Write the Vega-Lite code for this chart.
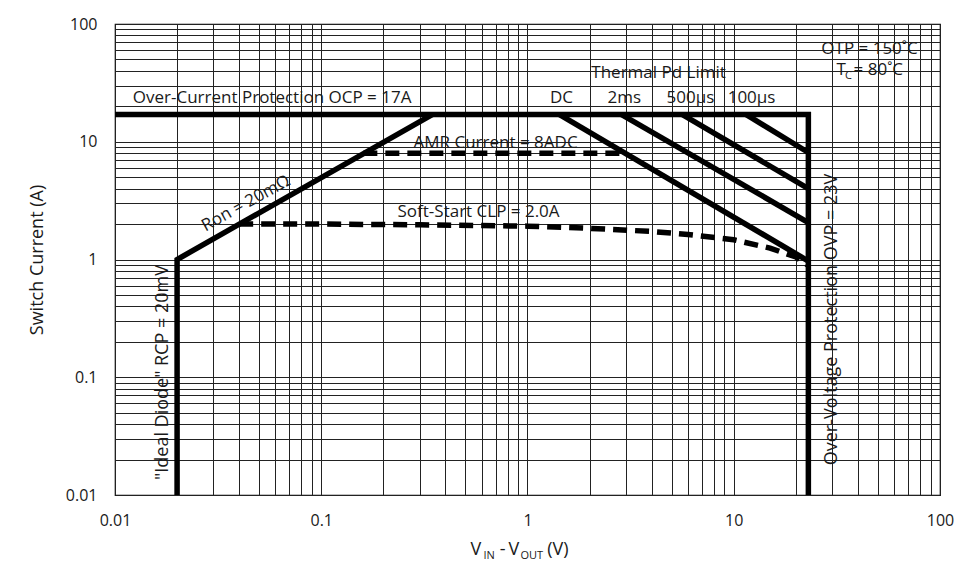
{
  "$schema": "https://vega.github.io/schema/vega-lite/v6.json",
  "width": 825,
  "height": 471,
  "autosize": {"type": "none"},
  "padding": {"left": 115, "top": 24, "right": 18, "bottom": 78},
  "background": "white",
  "config": {
    "view": {"stroke": "#000", "strokeWidth": 1.2},
    "font": "Open Sans",
    "text": {"font": "Open Sans", "color": "#1a1a1a"}
  },
  "encoding": {
    "x": {
      "field": "v", "type": "quantitative",
      "scale": {"type": "log", "domain": [0.01, 100], "nice": false},
      "axis": {
        "values": [0.01,0.02,0.03,0.04,0.05,0.06,0.07,0.08,0.09,0.1,0.2,0.3,0.4,0.5,0.6,0.7,0.8,0.9,1,2,3,4,5,6,7,8,9,10,20,30,40,50,60,70,80,90,100],
        "format": "~g",
        "labelExpr": "abs(log(datum.value)/LN10 - round(log(datum.value)/LN10)) < 0.001 ? datum.label : ''",
        "ticks": false, "domain": false, "grid": true,
        "gridColor": "#222", "gridWidth": 1, "gridOpacity": 1,
        "labelFont": "Open Sans", "labelFontSize": 16, "labelColor": "#1a1a1a",
        "labelPadding": 17, "labelFlush": false, "labelOverlap": false,
        "title": null
      }
    },
    "y": {
      "field": "i", "type": "quantitative",
      "scale": {"type": "log", "domain": [0.01, 100], "nice": false},
      "axis": {
        "values": [0.01,0.02,0.03,0.04,0.05,0.06,0.07,0.08,0.09,0.1,0.2,0.3,0.4,0.5,0.6,0.7,0.8,0.9,1,2,3,4,5,6,7,8,9,10,20,30,40,50,60,70,80,90,100],
        "format": "~g",
        "labelExpr": "abs(log(datum.value)/LN10 - round(log(datum.value)/LN10)) < 0.001 ? datum.label : ''",
        "ticks": false, "domain": false, "grid": true,
        "gridColor": "#222", "gridWidth": 1, "gridOpacity": 1,
        "labelFont": "Open Sans", "labelFontSize": 16, "labelColor": "#1a1a1a",
        "labelPadding": 18, "labelFlush": false, "labelOverlap": false,
        "title": "Switch Current (A)", "titleFont": "Open Sans", "titleFontSize": 18,
        "titleFontWeight": "normal", "titleColor": "#1a1a1a", "titlePadding": 19
      }
    }
  },
  "layer": [
    {
      "data": {"values": [
        {"s": "RON", "k": 0, "v": 0.02, "i": 0.01},
        {"s": "RON", "k": 1, "v": 0.02, "i": 1},
        {"s": "RON", "k": 2, "v": 0.345, "i": 17},
        {"s": "OCP", "k": 0, "v": 0.01, "i": 17},
        {"s": "OCP", "k": 1, "v": 23, "i": 17},
        {"s": "OCP", "k": 2, "v": 23, "i": 0.01},
        {"s": "DC", "k": 0, "v": 1.43, "i": 17},
        {"s": "DC", "k": 1, "v": 23, "i": 0.97},
        {"s": "2ms", "k": 0, "v": 2.86, "i": 17},
        {"s": "2ms", "k": 1, "v": 23, "i": 2.06},
        {"s": "500us", "k": 0, "v": 5.64, "i": 17},
        {"s": "500us", "k": 1, "v": 23, "i": 4.0},
        {"s": "100us", "k": 0, "v": 11.5, "i": 17},
        {"s": "100us", "k": 1, "v": 23, "i": 8.1}
      ]},
      "mark": {"type": "line", "color": "#000", "strokeWidth": 5.5, "strokeCap": "butt", "strokeJoin": "miter", "clip": true},
      "encoding": {"detail": {"field": "s"}, "order": {"field": "k"}}
    },
    {
      "data": {"values": [
        {"s": "AMR", "k": 0, "v": 0.16, "i": 8},
        {"s": "AMR", "k": 1, "v": 2.8, "i": 8},
        {"s": "SS", "k": 0, "v": 0.04, "i": 2.0},
        {"s": "SS", "k": 1, "v": 0.1, "i": 2.0},
        {"s": "SS", "k": 2, "v": 0.3, "i": 1.97},
        {"s": "SS", "k": 3, "v": 1, "i": 1.92},
        {"s": "SS", "k": 4, "v": 2, "i": 1.84},
        {"s": "SS", "k": 5, "v": 4, "i": 1.73},
        {"s": "SS", "k": 6, "v": 6, "i": 1.63},
        {"s": "SS", "k": 7, "v": 10, "i": 1.47},
        {"s": "SS", "k": 8, "v": 15, "i": 1.25},
        {"s": "SS", "k": 9, "v": 20, "i": 1.05},
        {"s": "SS", "k": 10, "v": 23, "i": 0.89}
      ]},
      "mark": {"type": "line", "color": "#000", "strokeWidth": 5.5, "strokeDash": [14, 8], "strokeCap": "butt"},
      "encoding": {"detail": {"field": "s"}, "order": {"field": "k"}}
    },
    {
      "data": {"values": [
        {"t": "Over-Current Protection OCP = 17A", "v": 0.0122, "i": 23.3}
      ]},
      "mark": {"type": "text", "align": "left", "baseline": "middle", "fontSize": 17},
      "encoding": {"text": {"field": "t"}}
    },
    {
      "data": {"values": [
        {"t": "DC", "v": 1.46, "i": 23.3},
        {"t": "2ms", "v": 2.95, "i": 23.3},
        {"t": "500µs", "v": 6.17, "i": 23.3},
        {"t": "100µs", "v": 12.2, "i": 23.3},
        {"t": "Thermal Pd Limit", "v": 4.32, "i": 38.7},
        {"t": "OTP = 150˚C", "v": 45.5, "i": 61.9},
        {"t": "AMR Current = 8ADC", "v": 0.70, "i": 9.67},
        {"t": "Soft-Start CLP = 2.0A", "v": 0.579, "i": 2.51}
      ]},
      "mark": {"type": "text", "align": "center", "baseline": "middle", "fontSize": 17},
      "encoding": {"text": {"field": "t"}}
    },
    {
      "data": {"values": [
        {"t": "T", "v": 31.5, "i": 40.3},
        {"t": "= 80˚C", "v": 38.1, "i": 40.3}
      ]},
      "mark": {"type": "text", "align": "left", "baseline": "middle", "fontSize": 17},
      "encoding": {"text": {"field": "t"}}
    },
    {
      "data": {"values": [
        {"t": "C", "v": 34.6, "i": 36.0}
      ]},
      "mark": {"type": "text", "align": "left", "baseline": "middle", "fontSize": 11},
      "encoding": {"text": {"field": "t"}}
    },
    {
      "data": {"values": [
        {"t": "\"Ideal Diode\" RCP = 20mV", "v": 0.01709, "i": 0.1097},
        {"t": "Over-Voltage Protection OVP = 23V", "v": 30.1, "i": 0.309}
      ]},
      "mark": {"type": "text", "align": "center", "baseline": "middle", "fontSize": 18, "angle": 270},
      "encoding": {"text": {"field": "t"}}
    },
    {
      "data": {"values": [
        {"t": "Ron = 20mΩ", "v": 0.0432, "i": 2.99}
      ]},
      "mark": {"type": "text", "align": "center", "baseline": "middle", "fontSize": 17, "angle": 331},
      "encoding": {"text": {"field": "t"}}
    },
    {
      "data": {"values": [
        {"t": "V", "v": 0.529, "i": 0.003379},
        {"t": "-", "v": 0.7333, "i": 0.003379},
        {"t": "V", "v": 0.8089, "i": 0.003379},
        {"t": "(V)", "v": 1.247, "i": 0.003379}
      ]},
      "mark": {"type": "text", "align": "left", "baseline": "middle", "fontSize": 18},
      "encoding": {"text": {"field": "t"}}
    },
    {
      "data": {"values": [
        {"t": "IN", "v": 0.612, "i": 0.003063},
        {"t": "OUT", "v": 0.925, "i": 0.003063}
      ]},
      "mark": {"type": "text", "align": "left", "baseline": "middle", "fontSize": 11},
      "encoding": {"text": {"field": "t"}}
    }
  ]
}
